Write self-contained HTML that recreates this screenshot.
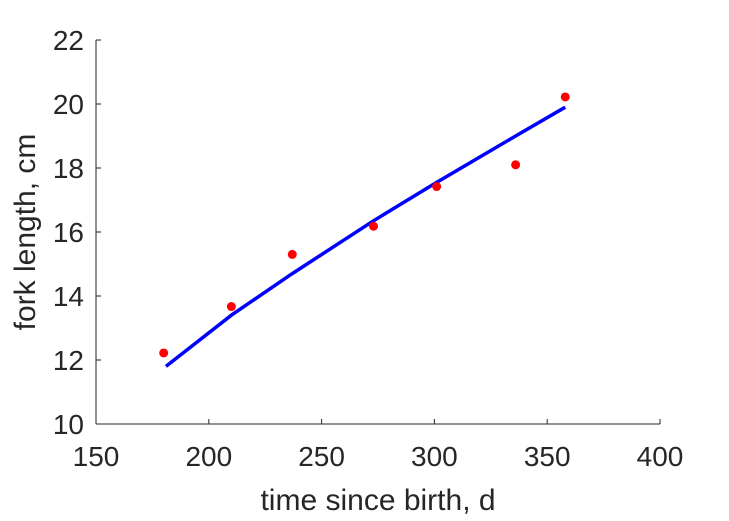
<!DOCTYPE html>
<html><head><meta charset="utf-8"><style>
html,body{margin:0;padding:0;background:#fff;}
svg{display:block;font-family:"Liberation Sans",Arial,sans-serif;}
</style></head><body>
<svg id="chart" width="729" height="521">
<g id="axes"></g>
<g id="marks"></g>
<text x="378" y="510" text-anchor="middle" font-size="30" fill="#262626">time since birth, d</text>
<text transform="translate(35,232) rotate(-90)" text-anchor="middle" font-size="30" fill="#262626">fork length, cm</text>
</svg>
<script>
const xTicks=[150,200,250,300,350,400];
const yTicks=[10,12,14,16,18,20,22];
const obsDays=[180,210,237,273,301,336,358];
const obsLength=[12.22,13.67,15.3,16.18,17.42,18.1,20.22];
const fitDays=[181,210,237,273,301,336,358];
const fitLength=[11.8,13.4,14.7,16.35,17.55,19.0,19.9];
const X0=96,X1=660,Y0=424,Y1=40;
const sx=v=>X0+(v-150)/(400-150)*(X1-X0);
const sy=v=>Y0-(v-10)/(22-10)*(Y0-Y1);
const NS="http://www.w3.org/2000/svg";
const ax=document.getElementById('axes'),mk=document.getElementById('marks');
function mkEl(t,a,p){const e=document.createElementNS(NS,t);for(const k in a)e.setAttribute(k,a[k]);p.appendChild(e);return e;}
let e=mkEl('line',{x1:X0,y1:Y0,x2:X1,y2:Y0,stroke:'#262626','stroke-width':1},ax);


e=mkEl('line',{x1:X0,y1:Y0,x2:X0,y2:Y1,stroke:'#262626','stroke-width':1},ax);


xTicks.forEach(v=>{
 const t=mkEl('line',{x1:sx(v),y1:Y0,x2:sx(v),y2:Y0-5,stroke:'#262626'},ax);
 
 
 const l=mkEl('text',{x:sx(v),y:Y0+42,'text-anchor':'middle','font-size':28,fill:'#262626'},ax);
 l.textContent=v;
 
 
});
yTicks.forEach(v=>{
 const t=mkEl('line',{x1:X0,y1:sy(v),x2:X0+5,y2:sy(v),stroke:'#262626'},ax);
 
 
 const l=mkEl('text',{x:X0-12,y:sy(v)+10,'text-anchor':'end','font-size':28,fill:'#262626'},ax);
 l.textContent=v;
 
 
});
const pts=fitDays.map((d,i)=>sx(d)+','+sy(fitLength[i])).join(' ');
e=mkEl('polyline',{points:pts,fill:'none',stroke:'#0000ff','stroke-width':3.5},mk);


obsDays.forEach((d,i)=>{
 const c=mkEl('circle',{cx:sx(d),cy:sy(obsLength[i]),r:4.5,fill:'#ff0000'},mk);
 
 
});
</script>
</body></html>
